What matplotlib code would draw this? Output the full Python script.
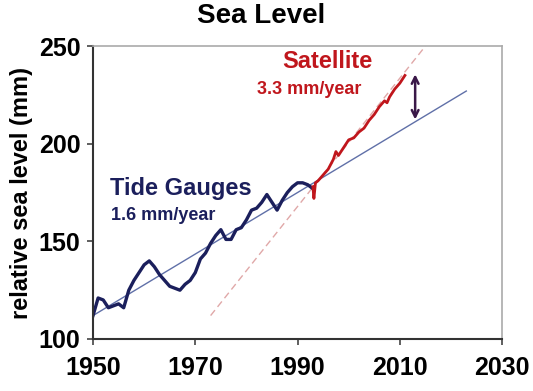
import matplotlib.pyplot as plt

plt.rcParams['font.family'] = ['Liberation Sans', 'DejaVu Sans']

# tide gauge record (mm)
tide_years = [1950, 1951, 1952, 1953, 1954, 1955, 1956, 1957, 1958, 1959,
              1960, 1961, 1962, 1963, 1964, 1965, 1966, 1967, 1968, 1969,
              1970, 1971, 1972, 1973, 1974, 1975, 1976, 1977, 1978, 1979,
              1980, 1981, 1982, 1983, 1984, 1985, 1986, 1987, 1988, 1989,
              1990, 1991, 1992, 1993]
tide_vals = [112, 121, 120, 116, 117, 118, 116, 125, 130, 134,
             138, 140, 137, 133, 130, 127, 126, 125, 128, 130,
             134, 141, 144, 149, 153, 156, 151, 151, 156, 157,
             161, 166, 167, 170, 174, 170, 166, 171, 175, 178,
             180, 180, 179, 177]

# satellite altimetry (mm)
sat_years = [1993.0, 1993.2, 1993.5, 1994, 1995, 1996, 1997, 1997.5, 1998,
             1999, 2000, 2001, 2002, 2003, 2004, 2005, 2006, 2007, 2007.5,
             2008, 2009, 2010, 2011]
sat_vals = [178, 172, 180, 181, 184, 187, 192, 196, 194,
            198, 202, 203, 206, 208, 212, 215, 219, 222, 221,
            224, 228, 231, 235]

# trend lines
tide_trend_years = [1950, 2023]
tide_trend_vals = [112, 227]
sat_trend_years = [1973, 2015]
sat_trend_vals = [112, 250]

navy = '#1b1f5c'
red = '#c0161c'

fig = plt.figure(figsize=(5.33, 3.91), dpi=100)
ax = fig.add_axes([0.1745, 0.133, 0.7675, 0.749])

ax.plot(sat_trend_years, sat_trend_vals, color='#e0a8a8', lw=1, ls=(0, (5, 3)))
ax.plot(tide_trend_years, tide_trend_vals, color='#6070a8', lw=1)
ax.plot(tide_years, tide_vals, color=navy, lw=2.4)
ax.plot(sat_years, sat_vals, color=red, lw=2)

ax.annotate('', xy=(2013, 237), xytext=(2013, 211),
            arrowprops=dict(arrowstyle='<->', color='#3a1848', lw=1.8,
                            mutation_scale=12))

ax.text(1953.3, 177, 'Tide Gauges', color=navy, fontsize=17, weight='bold',
        va='center')
ax.text(1953.6, 163.5, '1.6 mm/year', color=navy, fontsize=13, weight='bold',
        va='center')
ax.text(1987, 242, 'Satellite', color=red, fontsize=17, weight='bold',
        va='center')
ax.text(1982, 228, '3.3 mm/year', color=red, fontsize=13, weight='bold',
        va='center')

ax.set_xlim(1950, 2030)
ax.set_ylim(100, 250)
ax.set_xticks([1950, 1970, 1990, 2010, 2030])
ax.set_yticks([100, 150, 200, 250])
ax.tick_params(labelsize=18, length=4, width=1.2, color='#444444')
ax.tick_params(axis='x', pad=8)
ax.tick_params(axis='y', pad=5)
for lab in ax.get_xticklabels() + ax.get_yticklabels():
    lab.set_fontweight('bold')

for side in ['left', 'bottom']:
    ax.spines[side].set_color('#333333')
    ax.spines[side].set_linewidth(1.5)
for side in ['top', 'right']:
    ax.spines[side].set_color('#aaaaaa')
    ax.spines[side].set_linewidth(1.2)

ax.set_ylabel('relative sea level (mm)', fontsize=17, weight='bold', labelpad=4)
fig.text(0.49, 0.959, 'Sea Level', ha='center', va='center',
         fontsize=20, weight='bold')

fig.savefig('out.png', dpi=100)
